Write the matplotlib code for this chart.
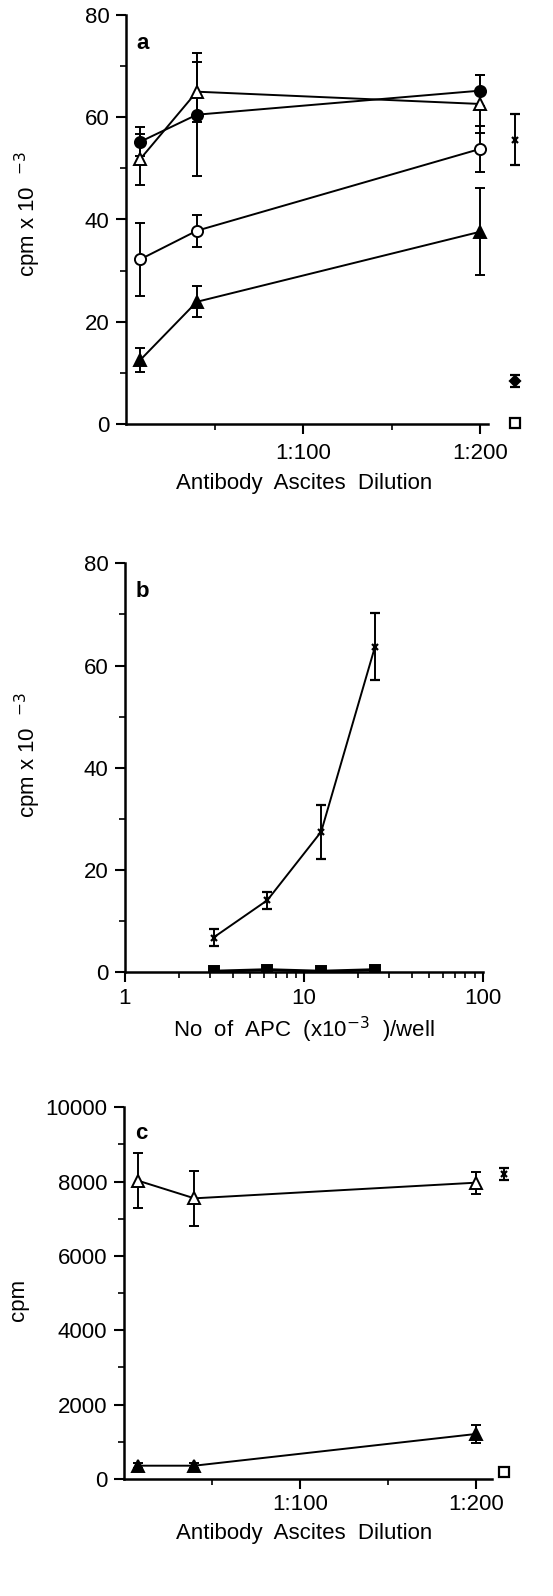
import matplotlib
matplotlib.use("Agg")
import matplotlib.pyplot as plt
from matplotlib.ticker import MultipleLocator, FixedLocator, NullFormatter, LogLocator

plt.rcParams['font.family'] = ['Liberation Sans', 'DejaVu Sans']

# ---------------- Panel a data ----------------
dil_a = [8, 40, 200]
a_filled_circle = [55.2, 60.5, 65.2]
a_filled_circle_err = [2.8, 12.0, 3.0]
a_open_triangle = [51.8, 65.0, 62.6]
a_open_triangle_err = [5.0, 5.9, 5.6]
a_open_circle = [32.2, 37.8, 53.8]
a_open_circle_err = [7.2, 3.1, 4.5]
a_filled_triangle = [12.5, 23.9, 37.6]
a_filled_triangle_err = [2.4, 3.0, 8.5]
a_ctrl_x = 220
a_ctrl_cross, a_ctrl_cross_err = 55.6, 5.0
a_ctrl_diamond, a_ctrl_diamond_err = 8.4, 1.2
a_ctrl_square = 0.2

# ---------------- Panel b data ----------------
apc = [3.125, 6.25, 12.5, 25]
b_cross = [6.8, 14.1, 27.5, 63.7]
b_cross_err = [1.7, 1.7, 5.3, 6.6]
b_square = [0.2, 0.5, 0.2, 0.5]

# ---------------- Panel c data ----------------
dil_c = [8, 40, 200]
c_open_triangle = [8026, 7551, 7972]
c_open_triangle_err = [735, 735, 296]
c_filled_triangle = [358, 358, 1211]
c_filled_triangle_err = [60, 60, 240]
c_ctrl_x = 216
c_ctrl_cross, c_ctrl_cross_err = 8197, 160
c_ctrl_square = 197

dil_ticks = [100, 200]
dil_ticklabels = ["1:100", "1:200"]
dil_minor = [50, 150]

W, H = 553, 1596
fig = plt.figure(figsize=(W / 100, H / 100), dpi=100)

def add_ax(left, top, right, bottom):
    return fig.add_axes([left / W, 1 - bottom / H, (right - left) / W, (bottom - top) / H])

FS = 16
K = 'black'
EB = dict(color=K, capsize=3.5, elinewidth=1.4, capthick=1.4, lw=1.4, ms=8, mew=1.4)

def style(ax):
    for s in ['top', 'right']:
        ax.spines[s].set_visible(False)
    for s in ['left', 'bottom']:
        ax.spines[s].set_linewidth(1.8)
    ax.tick_params(which='major', direction='out', length=7, width=1.5, labelsize=FS, pad=5)
    ax.tick_params(which='minor', direction='out', length=4, width=1.2)

def ctrl(ax, x, y, err, marker, mfc, ms=7):
    c = ax.errorbar([x], [y], yerr=None if err is None else [err], fmt=marker, mfc=mfc,
                    color=K, capsize=3.5, elinewidth=1.4, capthick=1.4, ms=ms, mew=1.6)
    for art in c.get_children():
        art.set_clip_on(False)

# ---------------- Panel a ----------------
ax = add_ax(126, 15, 488, 424)
style(ax)
ax.errorbar(dil_a, a_filled_circle, yerr=a_filled_circle_err, fmt='-o', mfc=K, **EB)
ax.errorbar(dil_a, a_open_triangle, yerr=a_open_triangle_err, fmt='-^', mfc='white', **EB)
ax.errorbar(dil_a, a_open_circle, yerr=a_open_circle_err, fmt='-o', mfc='white', **EB)
ax.errorbar(dil_a, a_filled_triangle, yerr=a_filled_triangle_err, fmt='-^', mfc=K, **EB)
ctrl(ax, a_ctrl_x, a_ctrl_cross, a_ctrl_cross_err, 'x', K, ms=5)
ctrl(ax, a_ctrl_x, a_ctrl_diamond, a_ctrl_diamond_err, 'D', K, ms=5)
ctrl(ax, a_ctrl_x, a_ctrl_square, None, 's', 'white', ms=7)
ax.set_xlim(0, 204.5)
ax.set_ylim(0, 80)
ax.yaxis.set_major_locator(MultipleLocator(20))
ax.yaxis.set_minor_locator(MultipleLocator(10))
ax.set_xticks(dil_ticks)
ax.set_xticklabels(dil_ticklabels)
ax.xaxis.set_minor_locator(FixedLocator(dil_minor))
ax.tick_params(axis='x', pad=7)
ax.text(0.03, 0.93, 'a', transform=ax.transAxes, fontsize=FS, fontweight='bold', va='center')
fig.text(304 / W, 1 - 484 / H, 'Antibody  Ascites  Dilution', fontsize=FS, ha='center', va='center')
fig.text(28 / W, 1 - 214 / H, 'cpm x 10  $^{-3}$', fontsize=FS, rotation=90, ha='center', va='center')

# ---------------- Panel b ----------------
ax = add_ax(125, 563.3, 482.7, 972.3)
style(ax)
ax.set_xscale('log')
ax.errorbar(apc, b_cross, yerr=b_cross_err, fmt='-x', mfc=K, color=K, capsize=3.5,
            elinewidth=1.4, capthick=1.4, lw=1.4, ms=5, mew=1.6)
ax.errorbar(apc, b_square, fmt='-s', mfc=K, color=K, lw=2.2, ms=7, mew=1.4)
ax.set_xlim(1, 100)
ax.set_ylim(0, 80)
ax.yaxis.set_major_locator(MultipleLocator(20))
ax.yaxis.set_minor_locator(MultipleLocator(10))
ax.set_xticks([1, 10, 100])
ax.set_xticklabels(['1', '10', '100'])
ax.xaxis.set_minor_locator(LogLocator(base=10, subs=range(2, 10)))
ax.xaxis.set_minor_formatter(NullFormatter())
ax.tick_params(axis='x', pad=4)
ax.text(0.03, 0.93, 'b', transform=ax.transAxes, fontsize=FS, fontweight='bold', va='center')
fig.text(304 / W, 1 - 1030 / H, 'No  of  APC  (x10$^{-3}$  )/well', fontsize=FS, ha='center', va='center')
fig.text(28 / W, 1 - 755 / H, 'cpm x 10  $^{-3}$', fontsize=FS, rotation=90, ha='center', va='center')

# ---------------- Panel c ----------------
ax = add_ax(124, 1107.3, 491.7, 1479)
style(ax)
ax.errorbar(dil_c, c_open_triangle, yerr=c_open_triangle_err, fmt='-^', mfc='white', **EB)
ax.errorbar(dil_c, c_filled_triangle, yerr=c_filled_triangle_err, fmt='-^', mfc=K, **EB)
ctrl(ax, c_ctrl_x, c_ctrl_cross, c_ctrl_cross_err, 'x', K, ms=5)
ctrl(ax, c_ctrl_x, c_ctrl_square, None, 's', 'white', ms=7)
ax.set_xlim(0, 209)
ax.set_ylim(0, 10000)
ax.yaxis.set_major_locator(MultipleLocator(2000))
ax.yaxis.set_minor_locator(MultipleLocator(1000))
ax.set_xticks(dil_ticks)
ax.set_xticklabels(dil_ticklabels)
ax.xaxis.set_minor_locator(FixedLocator(dil_minor))
ax.tick_params(axis='x', pad=4)
ax.text(0.03, 0.93, 'c', transform=ax.transAxes, fontsize=FS, fontweight='bold', va='center')
fig.text(304 / W, 1 - 1533 / H, 'Antibody  Ascites  Dilution', fontsize=FS, ha='center', va='center')
fig.text(18 / W, 1 - 1300 / H, 'cpm', fontsize=FS, rotation=90, ha='center', va='center')

fig.savefig('out.png', dpi=100)
